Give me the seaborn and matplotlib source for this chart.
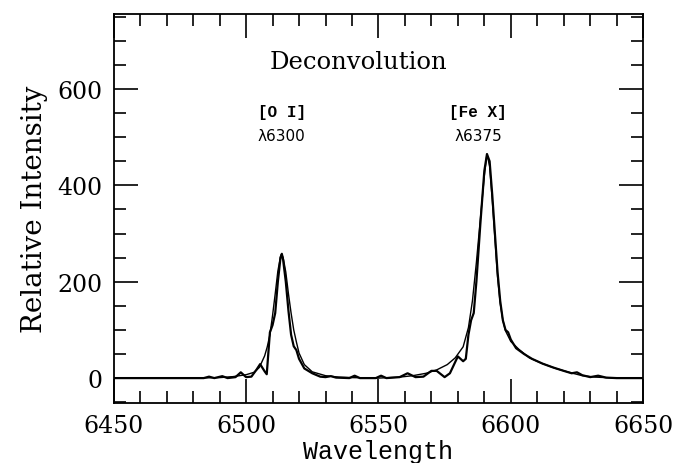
import numpy as np
import pandas as pd
import seaborn as sns
import matplotlib
matplotlib.use("Agg")
import matplotlib.pyplot as plt
from matplotlib.ticker import MultipleLocator

# ---- data ----
fit_wl = [6450, 6480, 6490, 6495, 6500, 6503, 6505, 6507, 6508, 6509, 6510, 6511, 6512,
          6513, 6513.5, 6514, 6515, 6516, 6517, 6518, 6519, 6520, 6522, 6525, 6530, 6535,
          6540, 6550, 6558, 6563, 6568, 6572, 6576, 6579, 6582, 6584, 6585.5, 6587, 6588.5,
          6590, 6591, 6592, 6593, 6594, 6595, 6596, 6597, 6598, 6600, 6603, 6607, 6612,
          6617, 6622, 6627, 6632, 6640, 6650]
fit_int = [0, 0, 1, 3, 7, 12, 22, 46, 65, 90, 130, 175, 222,
           252, 257, 250, 220, 175, 135, 100, 75, 52, 28, 13, 5, 2,
           1, 0, 2, 5, 10, 17, 28, 42, 65, 105, 160, 240, 330,
           420, 465, 440, 370, 290, 210, 155, 120, 98, 76, 60, 42, 30,
           20, 12, 5, 2, 0, 0]

dec_wl = [6450, 6484, 6486, 6488, 6491, 6493, 6496, 6498, 6500, 6502, 6504, 6505.3, 6507,
          6507.8, 6509, 6510, 6511, 6512, 6513, 6513.5, 6514, 6515, 6516, 6517, 6518, 6519,
          6520, 6522, 6525, 6528, 6530, 6532, 6534, 6539, 6541, 6543, 6549, 6551, 6553,
          6558, 6561, 6564, 6567, 6570, 6572, 6575, 6577, 6580, 6582, 6583, 6584, 6585,
          6586, 6587, 6588.5, 6590, 6591, 6592, 6593, 6594, 6595, 6596, 6597, 6598, 6599,
          6600, 6602, 6605, 6608, 6612, 6616, 6620, 6623, 6625, 6627, 6630, 6633, 6636,
          6640, 6650]
dec_int = [0, 0, 3, 0, 4, 0, 2, 12, 2, 3, 18, 29, 14,
           8, 95, 110, 135, 200, 250, 258, 245, 200, 140, 90, 66, 58,
           40, 20, 10, 3, 2, 4, 1, 0, 5, 0, 0, 5, 0,
           2, 10, 2, 3, 15, 15, 2, 10, 45, 35, 40, 90, 120,
           135, 200, 320, 430, 465, 450, 380, 300, 220, 160, 120, 100, 95,
           80, 62, 50, 40, 30, 22, 15, 10, 12, 6, 2, 5, 1,
           0, 0]

x_ticks = [6450, 6500, 6550, 6600, 6650]
y_ticks = [0, 200, 400, 600]
title_text = "Deconvolution"
line_labels = [("[O I]", "\u03bb6300", 6513.5), ("[Fe X]", "\u03bb6375", 6587.6)]

df = pd.concat([
    pd.DataFrame({"wl": fit_wl, "I": fit_int, "curve": "fit"}),
    pd.DataFrame({"wl": dec_wl, "I": dec_int, "curve": "deconv"}),
], ignore_index=True)

sns.set_theme(style="ticks")
plt.rcParams["font.family"] = ["DejaVu Serif"]
plt.rcParams["text.color"] = "black"
plt.rcParams["axes.labelcolor"] = "black"

fig = plt.figure(figsize=(6.77, 4.64), dpi=100)
ax = fig.add_axes([0.168, 0.129, 0.782, 0.839])

sns.lineplot(data=df[df.curve == "fit"], x="wl", y="I", ax=ax, color="black",
             lw=1.0, estimator=None, sort=True)
sns.lineplot(data=df[df.curve == "deconv"], x="wl", y="I", ax=ax, color="black",
             lw=1.6, estimator=None, sort=True)

ax.set_xlim(6450, 6650)
ax.set_ylim(-52, 756)
ax.set_xticks(x_ticks)
ax.set_yticks(y_ticks)
ax.xaxis.set_minor_locator(MultipleLocator(10))
ax.yaxis.set_minor_locator(MultipleLocator(50))
ax.tick_params(which="both", direction="in", top=True, right=True, colors="black",
               labelcolor="black", labelsize=17, width=1.2, pad=8)
ax.tick_params(which="major", length=17)
ax.tick_params(which="minor", length=8.5)
for s in ax.spines.values():
    s.set_linewidth(1.3)
    s.set_color("black")

ax.set_xlabel("Wavelength", fontsize=18, family="Liberation Mono", labelpad=1)
ax.set_ylabel("Relative Intensity", fontsize=20, labelpad=7)

ax.text(6542.6, 658, title_text, ha="center", va="center", fontsize=17.5)
for lab, lam, xpos in line_labels:
    ax.text(xpos, 554, lab, ha="center", va="center", fontsize=11.5,
            family="Liberation Mono", weight="bold")
    ax.text(xpos, 503, lam, ha="center", va="center", fontsize=11,
            family="DejaVu Sans")

fig.savefig("out.png", dpi=100)
